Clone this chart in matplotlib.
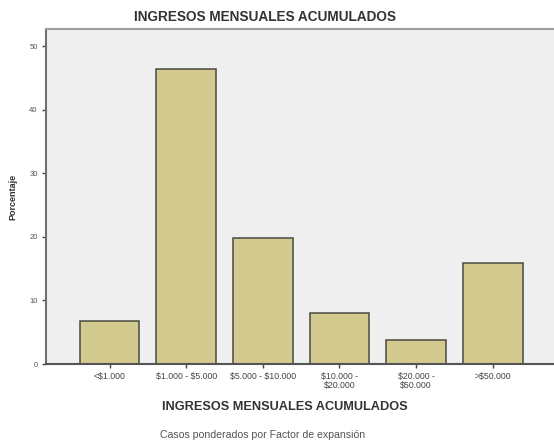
import matplotlib.pyplot as plt
import numpy as np

# income brackets (monthly, accumulated)
categories = ['<$1.000', '$1.000 - $5.000', '$5.000 - $10.000',
              '$10.000 -\n$20.000', '$20.000 -\n$50.000', '>$50.000']
percentages = [6.7, 46.4, 19.8, 8.0, 3.8, 15.9]
y_ticks = [0, 10, 20, 30, 40, 50]

plt.rcParams['font.family'] = ['Liberation Sans', 'DejaVu Sans']
plt.rcParams['text.parse_math'] = False

fig = plt.figure(figsize=(5.54, 4.44), dpi=100)
ax = fig.add_axes([0.083, 0.180, 0.917, 0.755])
ax.set_facecolor('#efefef')

x = np.arange(len(categories))
ax.bar(x, percentages, width=0.78, color='#d3ca90', edgecolor='#4a4a40', linewidth=1.1, zorder=2)

ax.set_xlim(-0.83, 5.8)
ax.set_ylim(0, 52.7)
ax.set_yticks(y_ticks)
ax.set_yticklabels([str(t) for t in y_ticks], fontsize=5.5, color='#555555')
ax.set_xticks(x)
ax.set_xticklabels(categories, fontsize=6.3, color='#444444', linespacing=0.9)
ax.tick_params(axis='both', direction='out', length=3, width=1, color='#444444', pad=3)

ax.spines['right'].set_visible(False)
ax.spines['top'].set_color('#a0a0a0')
ax.spines['top'].set_linewidth(1.5)
ax.spines['left'].set_color('#707070')
ax.spines['left'].set_linewidth(1.5)
ax.spines['bottom'].set_color('#555555')
ax.spines['bottom'].set_linewidth(1.5)

fig.text(265/554, 1 - 17/444, 'INGRESOS MENSUALES ACUMULADOS', ha='center', va='center',
         fontsize=9.8, fontweight='bold', color='#333333')
fig.text(285/554, 1 - 407/444, 'INGRESOS MENSUALES ACUMULADOS', ha='center', va='center',
         fontsize=9.2, fontweight='bold', color='#333333')
fig.text(263/554, 1 - 435/444, 'Casos ponderados por Factor de expansión', ha='center', va='center',
         fontsize=7.6, color='#555555')
fig.text(13/554, 1 - 197/444, 'Porcentaje', ha='center', va='center', rotation=90,
         fontsize=6.5, fontweight='bold', color='#333333')

fig.savefig('out.png', dpi=100)
